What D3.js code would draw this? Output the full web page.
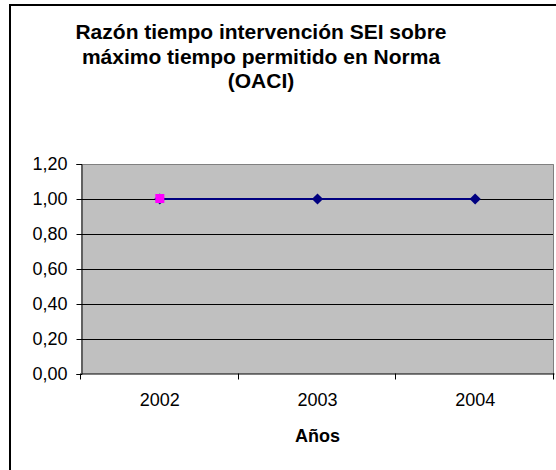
<!DOCTYPE html>
<html>
<head>
<meta charset="utf-8">
<script src="https://cdn.jsdelivr.net/npm/d3@7"></script>
<style>
  body { margin: 0; background: #fff; }
  svg { display: block; font-family: "Liberation Sans", Arial, sans-serif; }
</style>
</head>
<body>
<svg id="chart" width="556" height="470"></svg>
<script>
const years = ["2002", "2003", "2004"];
const ratios = [1.0, 1.0, 1.0];
const yTicks = [0, 0.2, 0.4, 0.6, 0.8, 1.0, 1.2];
const titleLines = ["Razón tiempo intervención SEI sobre", "máximo tiempo permitido en Norma", "(OACI)"];
const xTitle = "Años";

const svg = d3.select("#chart");
const PLOT = { left: 81, right: 554, top: 164, bottom: 374 };

// chart frame (cropped on the right and bottom)
svg.append("rect")
   .attr("x", 10).attr("y", 5)
   .attr("width", 700).attr("height", 600)
   .attr("fill", "#fff")
   .attr("stroke", "#000")
   .attr("stroke-width", 2);

const xScale = d3.scaleBand().domain(years).range([PLOT.left, PLOT.right]).padding(0);
const yScale = d3.scaleLinear().domain([0, 1.2]).range([PLOT.bottom, PLOT.top]);

// plot area
svg.append("rect")
   .attr("x", PLOT.left).attr("y", PLOT.top)
   .attr("width", PLOT.right - PLOT.left).attr("height", PLOT.bottom - PLOT.top)
   .attr("fill", "#c0c0c0");

// grid lines
svg.append("g")
   .selectAll("line")
   .data(yTicks.filter(d => d > 0 && d < 1.2))
   .enter()
   .append("line")
   .attr("x1", PLOT.left).attr("x2", PLOT.right)
   .attr("y1", d => Math.round(yScale(d)) + 0.5)
   .attr("y2", d => Math.round(yScale(d)) + 0.5)
   .attr("stroke", "#000");

// top / right border of plot area
svg.append("path")
   .attr("d", `M${PLOT.left},${PLOT.top + 0.5}H${PLOT.right - 0.5}V${PLOT.bottom}`)
   .attr("fill", "none")
   .attr("stroke", "#808080");

// y axis
const fmt = d => d3.format(".2f")(d).replace(".", ",");
const yAxis = svg.append("g")
   .attr("transform", `translate(${PLOT.left + 0.5},0)`)
   .call(d3.axisLeft(yScale).tickValues(yTicks).tickFormat(fmt).tickSize(5).tickPadding(9));
yAxis.select(".domain").attr("stroke", "#000");
yAxis.selectAll(".tick line").attr("stroke", "#000");
yAxis.selectAll("text")
     .attr("font-family", "Liberation Sans, Arial, sans-serif")
     .attr("font-size", 18)
     .attr("fill", "#000");

// x axis: labels centered, ticks at category boundaries
const xAxis = svg.append("g")
   .attr("transform", `translate(0,${PLOT.bottom - 0.5})`)
   .call(d3.axisBottom(xScale).tickSize(0).tickPadding(20));
xAxis.select(".domain").attr("stroke", "#000");
xAxis.selectAll("text")
     .attr("font-family", "Liberation Sans, Arial, sans-serif")
     .attr("font-size", 18)
     .attr("fill", "#000");
xAxis.selectAll(".edge")
     .data(years.map(y => xScale(y)).concat([PLOT.right]))
     .enter()
     .append("line")
     .attr("class", "edge")
     .attr("x1", d => Math.round(d) - 0.5).attr("x2", d => Math.round(d) - 0.5)
     .attr("y1", 0).attr("y2", 6)
     .attr("stroke", "#000");

// line series
const line = d3.line()
   .x((d, i) => xScale(years[i]) + xScale.bandwidth() / 2)
   .y(d => yScale(d));
svg.append("path")
   .datum(ratios)
   .attr("d", line)
   .attr("fill", "none")
   .attr("stroke", "#000080")
   .attr("stroke-width", 2);

svg.append("g")
   .selectAll("path")
   .data(ratios)
   .enter()
   .append("path")
   .attr("transform", (d, i) => `translate(${xScale(years[i]) + xScale.bandwidth() / 2},${yScale(d)})`)
   .attr("d", d3.symbol().type(d3.symbolDiamond2).size(80))
   .attr("fill", "#000080");

// first point highlighted
svg.append("rect")
   .attr("x", xScale(years[0]) + xScale.bandwidth() / 2 - 4.5)
   .attr("y", yScale(ratios[0]) - 5)
   .attr("width", 9).attr("height", 9)
   .attr("fill", "#ff00ff");

// title
svg.append("text")
   .attr("text-anchor", "middle")
   .attr("font-weight", "bold")
   .attr("font-size", 21)
   .selectAll("tspan")
   .data(titleLines)
   .enter()
   .append("tspan")
   .attr("x", 261)
   .attr("y", (d, i) => 39 + i * 24.5)
   .text(d => d);

svg.append("text")
   .attr("x", (PLOT.left + PLOT.right) / 2)
   .attr("y", 442)
   .attr("text-anchor", "middle")
   .attr("font-weight", "bold")
   .attr("font-size", 18)
   .text(xTitle);
</script>
</body>
</html>
